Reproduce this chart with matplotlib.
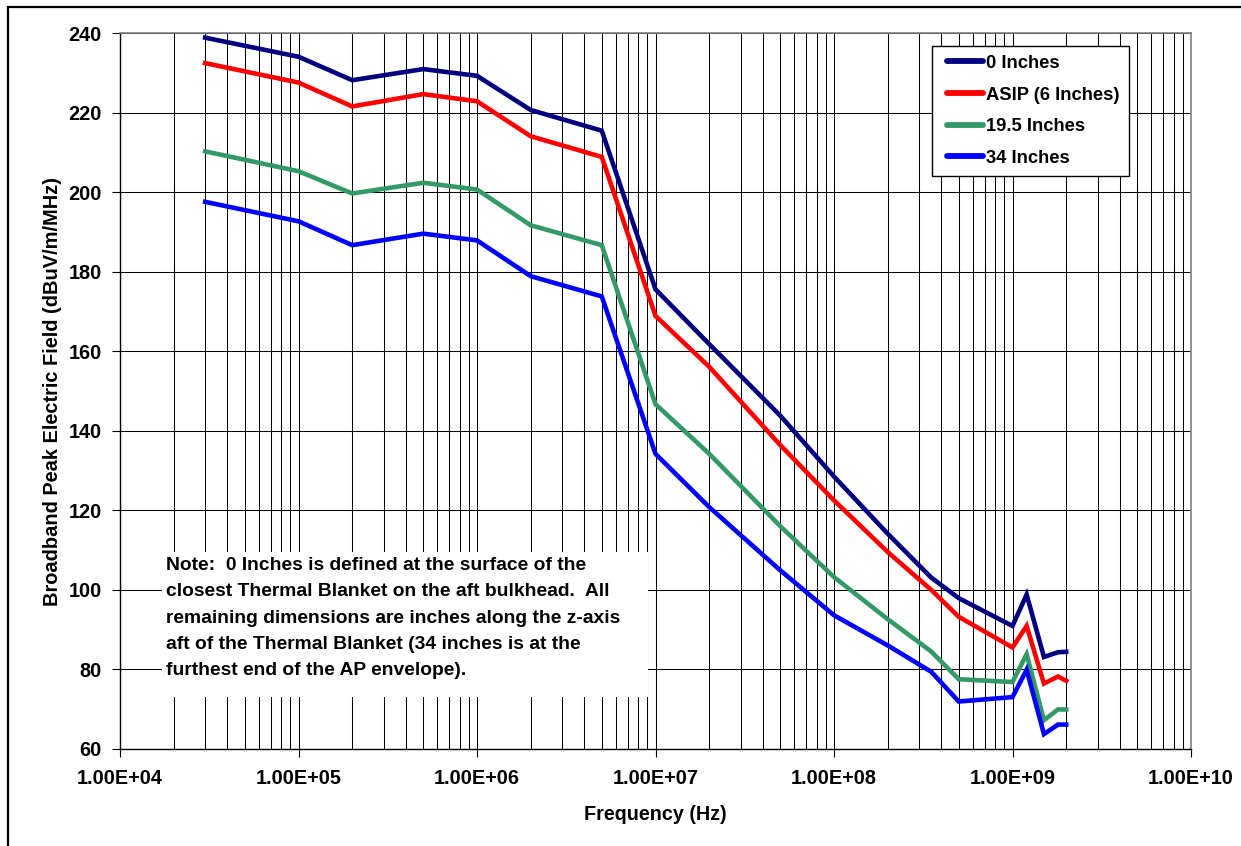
import matplotlib
matplotlib.use("Agg")
import matplotlib.pyplot as plt
from matplotlib.patches import Rectangle
from matplotlib.ticker import LogLocator, FixedLocator, NullFormatter, FuncFormatter

plt.rcParams['font.family'] = ['Liberation Sans', 'DejaVu Sans']
plt.rcParams['font.weight'] = 'bold'

# Frequency points (Hz)
freq = [3e4, 1e5, 2e5, 5e5, 1e6, 2e6, 5e6, 1e7, 2e7, 5e7, 1e8, 2e8, 3.5e8,
        5e8, 1e9, 1.2e9, 1.5e9, 1.8e9, 2e9]

# Broadband peak electric field (dBuV/m/MHz) at each distance
field_0in = [238.9, 234.1, 228.2, 231.0, 229.3, 220.7, 215.5, 175.6, 161.8,
             143.8, 128.5, 114.1, 103.1, 97.9, 90.9, 98.8, 83.1, 84.3, 84.4]
field_asip = [232.5, 227.6, 221.6, 224.7, 222.9, 214.1, 208.9, 168.9, 156.1,
              136.4, 122.5, 109.5, 100.0, 93.2, 85.5, 90.9, 76.4, 78.2, 77.1]
field_19_5in = [210.3, 205.3, 199.7, 202.4, 200.7, 191.7, 186.7, 146.7, 134.2,
                116.0, 103.2, 92.6, 84.5, 77.5, 76.8, 83.8, 67.2, 69.9, 69.9]
field_34in = [197.6, 192.7, 186.7, 189.6, 187.9, 178.9, 173.8, 134.2, 120.8,
              104.9, 93.6, 86.0, 79.4, 71.9, 73.0, 79.9, 63.7, 66.1, 66.1]

series_labels = ["0 Inches", "ASIP (6 Inches)", "19.5 Inches", "34 Inches"]
series_colors = ["#000080", "#FF0000", "#339966", "#0000FF"]

x_major = [1e4, 1e5, 1e6, 1e7, 1e8, 1e9, 1e10]
y_major = list(range(60, 241, 20))

note_text = ("Note:  0 Inches is defined at the surface of the\n"
             "closest Thermal Blanket on the aft bulkhead.  All\n"
             "remaining dimensions are inches along the z-axis\n"
             "aft of the Thermal Blanket (34 inches is at the\n"
             "furthest end of the AP envelope).")

W, H = 1241, 846
DPI = 100
fig = plt.figure(figsize=(W / DPI, H / DPI), dpi=DPI)

# outer chart frame
fig.patches.append(Rectangle((7.5 / W, -0.05), 1.2, 1 - 7.5 / H + 0.05,
                             transform=fig.transFigure, fill=False,
                             edgecolor="black", linewidth=1.6, zorder=0))

ax_l, ax_r, ax_t, ax_b = 120, 1191, 33.3, 748.8
ax = fig.add_axes([ax_l / W, (H - ax_b) / H, (ax_r - ax_l) / W, (ax_b - ax_t) / H])

ax.set_xscale("log")
ax.set_xlim(1e4, 1e10)
ax.set_ylim(60, 240)

ax.xaxis.set_major_locator(FixedLocator(x_major))
ax.xaxis.set_minor_locator(LogLocator(base=10, subs=range(2, 10), numticks=100))
ax.xaxis.set_minor_formatter(NullFormatter())
ax.xaxis.set_major_formatter(FuncFormatter(lambda v, p: "%.2E" % v))
ax.yaxis.set_major_locator(FixedLocator(y_major))

ax.grid(True, which="major", axis="both", color="black", linewidth=0.75, zorder=0)
ax.grid(True, which="minor", axis="x", color="black", linewidth=0.75, zorder=0)
ax.set_axisbelow(True)

for s in ("left", "bottom"):
    ax.spines[s].set_color("black")
    ax.spines[s].set_linewidth(1.0)
for s in ("top", "right"):
    ax.spines[s].set_color("#808080")
    ax.spines[s].set_linewidth(1.2)

ax.tick_params(axis="both", which="major", direction="out", length=6,
               width=0.8, labelsize=14.3)
ax.tick_params(axis="x", which="major", pad=8.5)
ax.tick_params(axis="y", which="major", pad=7)
ax.tick_params(axis="x", which="minor", length=0)
for lab in ax.get_xticklabels() + ax.get_yticklabels():
    lab.set_fontweight("bold")

ax.set_xlabel("Frequency (Hz)", fontsize=14.2, fontweight="bold", labelpad=12.5)
ax.set_ylabel("Broadband Peak Electric Field (dBuV/m/MHz)", fontsize=14.4,
              fontweight="bold", labelpad=5)

for vals, lab, col in zip([field_0in, field_asip, field_19_5in, field_34in],
                          series_labels, series_colors):
    ax.plot(freq, vals, color=col, linewidth=3.3, label=lab, zorder=4,
            solid_joinstyle="miter")

# note block with white background covering the grid
nx0 = (162 - ax_l) / (ax_r - ax_l)
nx1 = (648 - ax_l) / (ax_r - ax_l)
ny1 = (ax_b - 552) / (ax_b - ax_t)
ny0 = (ax_b - 697) / (ax_b - ax_t)
ax.add_patch(Rectangle((nx0, ny0), nx1 - nx0, ny1 - ny0, transform=ax.transAxes,
                       facecolor="white", edgecolor="none", zorder=2))
ax.text((166 - ax_l) / (ax_r - ax_l), (ax_b - 557) / (ax_b - ax_t), note_text,
        transform=ax.transAxes, ha="left", va="top", fontsize=13.85,
        fontweight="bold", linespacing=1.72, zorder=3)

leg_fs = 13.2
fs_px = leg_fs * DPI / 72.0
leg = ax.legend(loc="upper left",
                bbox_to_anchor=((932 - ax_l) / (ax_r - ax_l), (ax_b - 45.7) / (ax_b - ax_t)),
                borderaxespad=0, fancybox=False, framealpha=1, edgecolor="black",
                prop={"size": leg_fs, "weight": "bold"},
                handlelength=42.0 / fs_px, handletextpad=3.0 / fs_px,
                labelspacing=0.8, borderpad=0.5)
leg.get_frame().set_linewidth(1.0)
shift_pt = 6.0 * 72.0 / DPI
for h in leg.get_lines():
    h.set_linewidth(4.2)
    h.set_solid_capstyle("round")
    xd = list(h.get_xdata())
    h.set_xdata([xd[0] + shift_pt, xd[-1]])
    h.set_ydata([h.get_ydata()[0]] * 2)
leg.set_zorder(6)

fig.savefig("out.png", dpi=DPI, facecolor="white")
